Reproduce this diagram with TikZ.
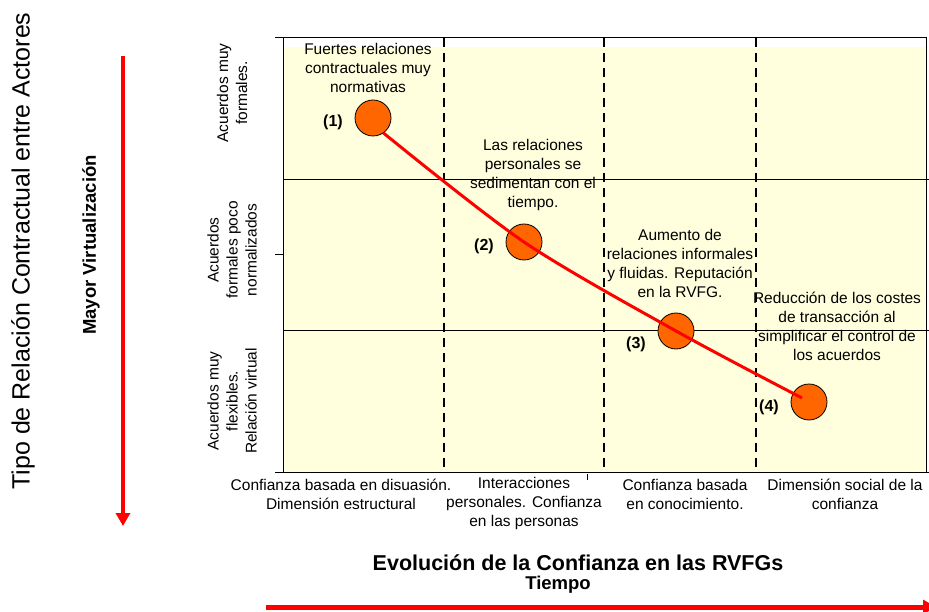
\documentclass[tikz,border=0pt]{standalone}
\usepackage{fontspec}
\setmainfont{Liberation Sans}
\usetikzlibrary{arrows.meta}
\definecolor{paleyellow}{RGB}{255,255,222}
\definecolor{dotorange}{RGB}{255,102,0}
\tikzstyle{stage} = [circle, draw, line width=0.8pt, fill=dotorange, minimum size=36pt, inner sep=0pt]
\tikzstyle{num} = [font=\fontsize{16}{19}\selectfont\bfseries, inner sep=0pt]
\tikzstyle{note} = [align=center, font=\fontsize{15.5}{19}\selectfont, inner sep=0pt]
\tikzstyle{level} = [note, rotate=90]
\tikzstyle{frame} = [line width=1pt]
\tikzstyle{divider} = [line width=2.2pt, dash pattern=on 9pt off 6pt]
\tikzstyle{trend} = [red, line width=3pt]
\tikzstyle{bigarrow} = [red, line width=4pt, -{Triangle[length=13pt,width=14pt]}]

\begin{document}
\begin{tikzpicture}[x=1pt, y=-1pt, node distance=40pt]
            \useasboundingbox (0,0) rectangle (929,612);
            \fill [paleyellow] (283,47) rectangle (925,473);

            \draw [frame] (275,38) -- (926,38) -- (926,472);
            \draw [frame] (283,38) -- (283,472);
            \draw [frame] (275,472) -- (929,472);
            \draw [frame] (275,255) -- (283,255);
            \draw [frame] (283,180) -- (929,180);
            \draw [frame] (283,331) -- (929,331);
            \draw [frame] (587,474) -- (587,480);
            \foreach \x in {444,604,756}
                \draw [divider] (\x,38) -- (\x,472);

            \node (c1) [stage] at (373,118) {};
            \node (c2) [stage] at (524,242) {};
            \node (c3) [stage] at (676,331) {};
            \node (c4) [stage] at (809,402) {};
            \coordinate (tail) at ([shift={(-7,-4)}]c4.center);

            \node (n1) [num, left of=c1, yshift=-4pt] {(1)};
            \node (n2) [num, left of=c2, yshift=-4pt] {(2)};
            \node (n3) [num, left of=c3, yshift=-13pt] {(3)};
            \node (n4) [num, left of=c4, yshift=-5pt] {(4)};

            \draw [trend] plot [smooth] coordinates {(c1.-55) (c2.center) (c3.center) (tail)};

            \node (t1) [note] at (368,68)  {Fuertes relaciones\\contractuales muy\\normativas};
            \node (t2) [note] at (533,175) {Las relaciones\\personales se\\sedimentan con el\\tiempo.};
            \node (t3) [note] at (680,263) {Aumento de\\relaciones informales\\y fluidas. Reputación\\en la RVFG.};
            \node (t4) [note] at (837,326) {Reducción de los costes\\de transacción al\\simplificar el control de\\los acuerdos};

            \node (y1) [level] at (232,93)  {Acuerdos muy\\formales.};
            \node (y2) [level] at (232,250) {Acuerdos\\formales poco\\normalizados};
            \node (y3) [level] at (232,401) {Acuerdos muy\\flexibles.\\Relación virtual};

            \node (x1) [note] at (341,494) {Confianza basada en disuasión.\\Dimensión estructural};
            \node (x2) [note] at (524,503) {Interacciones\\personales. Confianza\\en las personas};
            \node (x3) [note] at (685,494) {Confianza basada\\en conocimiento.};
            \node (x4) [note] at (845,494) {Dimensión social de la\\confianza};

            \node (xtitle) [font=\fontsize{21.5}{24}\selectfont\bfseries] at (578,563) {Evolución de la Confianza en las RVFGs};
            \node (xsub)   [font=\fontsize{18.5}{22}\selectfont\bfseries] at (558,585) {Tiempo};
            \node (ytitle) [rotate=90, font=\fontsize{25}{30}\selectfont] at (23,251) {Tipo de Relación Contractual entre Actores};
            \node (ysub)   [rotate=90, font=\fontsize{18.5}{22}\selectfont\bfseries] at (91,245) {Mayor Virtualización};

            \coordinate (vstart) at (123,56);
            \coordinate (vend)   at (123,526);
            \coordinate (hstart) at (266,607);
            \coordinate (hend)   at (936,607);
            \draw [bigarrow] (vstart) -- (vend);
            \draw [bigarrow, line width=5pt] (hstart) -- (hend);
        \end{tikzpicture}
\end{document}
